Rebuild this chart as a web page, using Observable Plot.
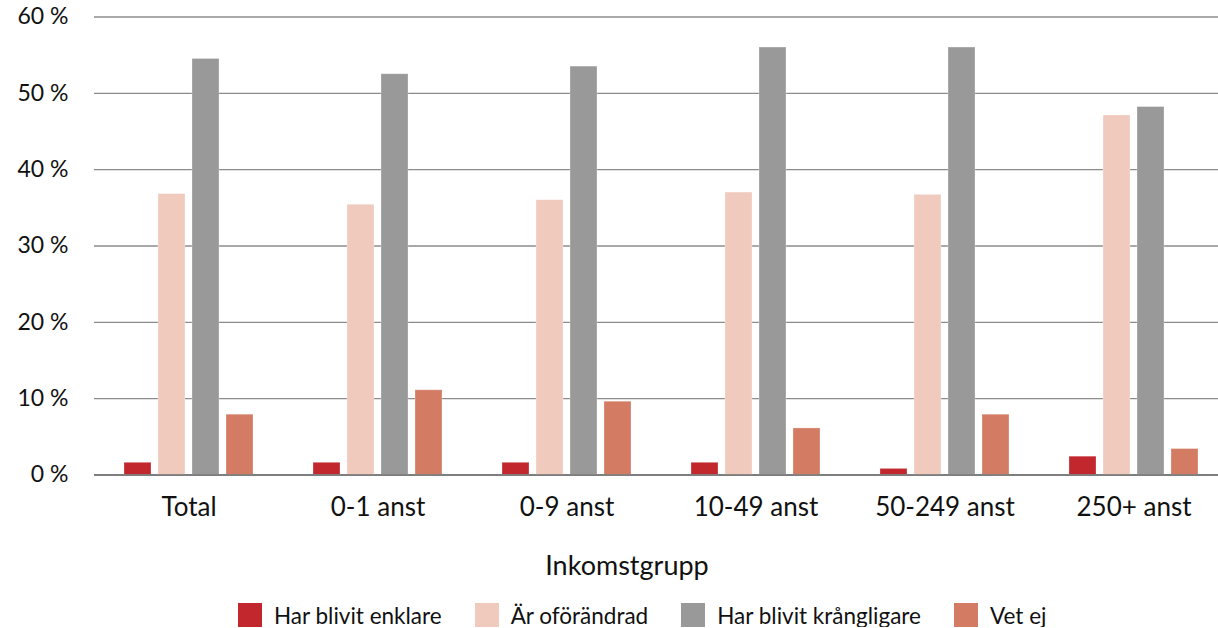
<!DOCTYPE html>
<html>
<head>
<meta charset="utf-8">
<script src="https://cdn.jsdelivr.net/npm/d3@7"></script>
<script src="https://cdn.jsdelivr.net/npm/@observablehq/plot@0.6"></script>
<style>
  html, body { margin: 0; padding: 0; background: #fff; overflow: hidden; width: 1218px; }
  #chart { width: 1218px; height: 540px; overflow: hidden; }
  #chart svg { display: block; max-width: none !important; font-family: Lato, "Noto Sans", sans-serif; }
  #xlabel { width: 1218px; box-sizing: border-box; padding-left: 36px; height: 50px; line-height: 50px;
            text-align: center; font-family: Lato, "Noto Sans", sans-serif; font-size: 27px; color: #111; }
  #legend { display: flex; align-items: center; padding-left: 238px; margin-top: 13px; height: 24px;
            font-family: Lato, "Noto Sans", sans-serif; font-size: 22.5px; color: #111; }
  #legend .item { display: flex; align-items: center; margin-right: 33px; }
  #legend .sw { width: 24px; height: 24px; margin-right: 12px; }
</style>
</head>
<body>
<div id="chart"></div>
<div id="xlabel"></div>
<div id="legend"></div>
<script>
const groups = ["Total", "0-1 anst", "0-9 anst", "10-49 anst", "50-249 anst", "250+ anst"];
const series = ["Har blivit enklare", "Är oförändrad", "Har blivit krångligare", "Vet ej"];
const colors = ["#c1272d", "#f0cabd", "#999999", "#d47b63"];
const enklare     = [1.6, 1.6, 1.6, 1.6, 0.8, 2.4];
const oforandrad  = [36.8, 35.4, 36.0, 37.0, 36.7, 47.1];
const krangligare = [54.5, 52.5, 53.5, 56.0, 56.0, 48.2];
const vetej       = [7.9, 11.1, 9.6, 6.1, 7.9, 3.4];
const yTicks = [0, 10, 20, 30, 40, 50, 60];
const xLabel = "Inkomstgrupp";

const seriesValues = [enklare, oforandrad, krangligare, vetej];
const data = [];
groups.forEach((g, gi) => {
  series.forEach((s, si) => data.push({group: g, series: s, value: seriesValues[si][gi]}));
});

const chart = Plot.plot({
  width: 1228,
  height: 540,
  marginLeft: 94,
  marginRight: 0,
  marginTop: 16.5,
  marginBottom: 65.5,
  style: {fontFamily: "Lato, 'Noto Sans', sans-serif", color: "#111", maxWidth: "none"},
  fx: {domain: groups, padding: 0},
  x: {domain: series, paddingInner: 0.217, paddingOuter: 0.848, axis: null},
  y: {domain: [0, 60]},
  color: {domain: series, range: colors},
  marks: [
    Plot.gridY(yTicks, {stroke: "#8c8c8c", strokeOpacity: 1, strokeWidth: 1.3}),
    Plot.barY(data, {fx: "group", x: "series", y: "value", fill: "series", stroke: "#ffffff", strokeOpacity: 0.35, strokeWidth: 0.8}),
    Plot.ruleY([0], {stroke: "#707070", strokeWidth: 1.6}),
    Plot.axisY(yTicks, {tickSize: 0, tickPadding: 26, fontSize: 23, tickFormat: d => d + " %", label: null}),
    Plot.axisFx({anchor: "bottom", tickSize: 0, tickPadding: 23, fontSize: 26, label: null})
  ]
});
document.getElementById("chart").appendChild(chart);
document.getElementById("xlabel").textContent = xLabel;

const legend = document.getElementById("legend");
series.forEach((s, i) => {
  const item = document.createElement("div");
  item.className = "item";
  const sw = document.createElement("div");
  sw.className = "sw";
  sw.style.background = colors[i];
  const t = document.createElement("span");
  t.textContent = s;
  item.appendChild(sw);
  item.appendChild(t);
  legend.appendChild(item);
});
</script>
</body>
</html>
